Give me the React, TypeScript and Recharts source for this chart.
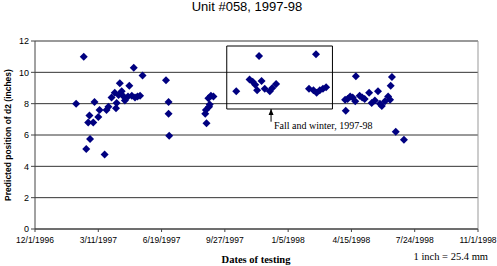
import {
  CartesianGrid,
  Label,
  ReferenceArea,
  ReferenceDot,
  ReferenceLine,
  Scatter,
  ScatterChart,
  XAxis,
  YAxis
} from "recharts"

// days counted from 12/1/1996
const testDay = [
  65, 77, 81, 84, 86, 87, 92, 94, 100, 102, 110, 113, 116, 121, 126, 128, 129,
  132, 134, 137, 140, 142, 147, 149, 153, 156, 158, 162, 166, 170,
  207, 211, 211, 212,
  269, 270, 271, 274, 275, 276, 278, 282,
  318, 339, 344, 348, 351, 354, 358, 363, 371, 375, 381,
  433, 440, 444, 445, 450, 455, 460,
  490, 491, 494, 498, 502, 506, 507, 513, 517, 521, 528, 532, 537, 542, 545,
  548, 553, 558, 561, 562, 564, 570, 583
]
const d2Position = [
  8.0, 11.0, 5.1, 6.8, 7.25, 5.75, 6.8, 8.1, 7.15, 7.6, 4.75, 7.6, 7.8, 8.4,
  8.7, 7.7, 8.05, 8.55, 9.3, 8.8, 8.45, 8.2, 8.45, 9.15, 8.5, 10.3, 8.4, 8.45,
  8.5, 9.8,
  9.5, 8.1, 7.35, 5.95,
  7.35, 7.6, 6.75, 8.35, 7.8, 7.95, 8.5, 8.45,
  8.8, 9.55, 9.4, 9.2, 8.85, 11.05, 9.45, 8.95, 8.8, 9.0, 9.25,
  8.95, 8.85, 11.15, 8.7, 8.85, 8.95, 9.05,
  8.25, 7.55, 8.3, 8.45, 8.4, 8.15, 9.75, 8.5, 8.4, 8.3, 8.7, 8.05, 8.2, 8.8,
  8.0, 7.85, 8.15, 8.45, 8.25, 9.15, 9.7, 6.2, 5.7
]
const xTicks = [0, 100, 200, 300, 400, 500, 600, 700]
const yTicks = [0, 2, 4, 6, 8, 10, 12]

// fall and winter box, in data units
const boxX = [303, 470]
const boxY = [7.66, 11.68]
const arrowX = 373
const arrowY = [6.85, 7.66]
const noteText = "Fall and winter, 1997-98"

const data = testDay.map((d, i) => ({ day: d, pos: d2Position[i] }))

const START = Date.UTC(1996, 11, 1)
const fmtDate = (d: number) => {
  const dt = new Date(START + d * 86400000)
  return `${dt.getUTCMonth() + 1}/${dt.getUTCDate()}/${dt.getUTCFullYear()}`
}

const Diamond = (p: any) => {
  const { cx, cy } = p
  return (
    <path
      d={`M${cx},${cy - 4}L${cx + 4},${cy}L${cx},${cy + 4}L${cx - 4},${cy}Z`}
      fill="#000080"
    />
  )
}

const sans = "Liberation Sans, Arial, sans-serif"
const serif = "Liberation Serif, Times New Roman, serif"

const App = () => {
  return (
    <div style={{ position: "absolute", left: 0, top: 0, width: 497, height: 266, background: "#fff" }}>
      <ScatterChart
        width={497}
        height={266}
        margin={{ top: 41, right: 19, bottom: 17, left: 5 }}
      >
        <CartesianGrid vertical={false} stroke="#333" />
        <XAxis
          type="number"
          dataKey="day"
          domain={[0, 700]}
          ticks={xTicks}
          tickFormatter={fmtDate}
          height={20}
          tickSize={3}
          tickMargin={5}
          stroke="#444"
          tick={{ fill: "#000", fontSize: 8.5, fontFamily: sans }}
          interval={0}
        />
        <YAxis
          type="number"
          dataKey="pos"
          domain={[0, 12]}
          ticks={yTicks}
          width={30}
          tickSize={4}
          stroke="#444"
          tick={{ fill: "#000", fontSize: 9, fontFamily: sans }}
        >
          <Label
            value="Predicted position of d2 (inches)"
            angle={-90}
            position="insideLeft"
            offset={3}
            style={{ textAnchor: "middle", fontSize: 8.5, fontWeight: "bold", fontFamily: sans, fill: "#000" }}
          />
        </YAxis>
        <ReferenceLine y={12} stroke="#999" />
        <ReferenceLine x={700} stroke="#999" />
        <ReferenceArea
          x1={boxX[0]}
          x2={boxX[1]}
          y1={boxY[0]}
          y2={boxY[1]}
          fill="none"
          stroke="#000"
          strokeWidth={1}
        />
        <ReferenceLine
          segment={[
            { x: arrowX, y: arrowY[0] },
            { x: arrowX, y: arrowY[1] }
          ]}
          stroke="#000"
        />
        <ReferenceDot
          x={arrowX}
          y={arrowY[1]}
          shape={(p: any) => (
            <path d={`M${p.cx},${p.cy}l-2.5,6l5,0z`} fill="#000" />
          )}
        />
        <ReferenceDot
          x={arrowX}
          y={arrowY[0]}
          shape={(p: any) => (
            <text
              x={p.cx + 3}
              y={p.cy + 7}
              fontSize={10}
              fontFamily={serif}
              fill="#000"
            >
              {noteText}
            </text>
          )}
        />
        <Scatter data={data} shape={<Diamond />} isAnimationActive={false} />
      </ScatterChart>
      <svg
        width={497}
        height={266}
        style={{ position: "absolute", left: 0, top: 0, pointerEvents: "none" }}
      >
        <text x={247} y={11} textAnchor="middle" fontSize={13} fontFamily={sans} fill="#000">
          Unit #058, 1997-98
        </text>
        <text x={256} y={263} textAnchor="middle" fontSize={10.5} fontWeight="bold" fontFamily={serif} fill="#000">
          Dates of testing
        </text>
        <text x={488} y={260} textAnchor="end" fontSize={10.5} fontFamily={serif} fill="#000">
          1 inch = 25.4 mm
        </text>
      </svg>
    </div>
  )
}

export default App
